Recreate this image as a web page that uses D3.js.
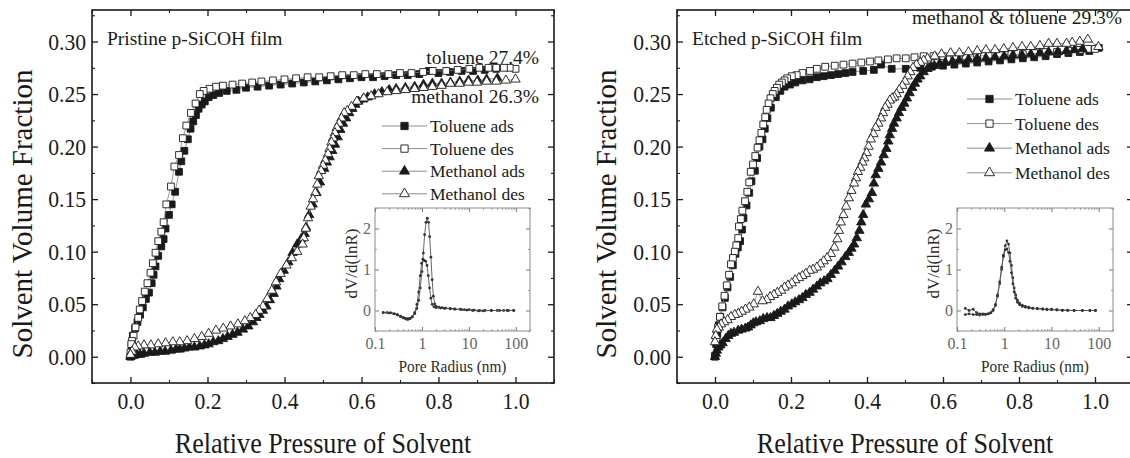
<!DOCTYPE html>
<html>
<head>
<meta charset="utf-8">
<script src="https://cdn.jsdelivr.net/npm/d3@7"></script>
<style>
  html, body { margin: 0; padding: 0; background: #fff; }
  svg { display: block; font-family: "Liberation Serif", "Times New Roman", serif; }
</style>
</head>
<body>
<svg id="chart" width="1130" height="458"></svg>
<script>
// ---------------- axis ticks ----------------
const pressureTicks = [0, 0.2, 0.4, 0.6, 0.8, 1.0];
const pressureMinorTicks = [-0.1, 0.1, 0.3, 0.5, 0.7, 0.9, 1.1];
const fractionTicks = [0, 0.05, 0.10, 0.15, 0.20, 0.25, 0.30];
const fractionMinorTicks = [-0.025, 0.025, 0.075, 0.125, 0.175, 0.225, 0.275, 0.325];
const radiusTicks = [0.1, 1, 10, 100];
const radiusMinorTicks = [0.2, 0.3, 0.4, 0.5, 0.6, 0.7, 0.8, 0.9, 2, 3, 4, 5, 6, 7, 8, 9,
                          20, 30, 40, 50, 60, 70, 80, 90, 200];
const psdTicks = [0, 1, 2];
const psdMinorTicks = [-0.5, 0.5, 1.5, 2.5];

const seriesNames = ["Toluene ads", "Toluene des", "Methanol ads", "Methanol des"];

// ---------------- pristine film isotherms [P/P0, volume fraction] ----------------
const pristineTolueneAds = [
  [0.000, 0.000], [0.003, 0.010], [0.006, 0.020], [0.012, 0.027], [0.018, 0.033], [0.025, 0.040],
  [0.032, 0.047], [0.040, 0.055], [0.048, 0.061], [0.055, 0.070], [0.060, 0.078], [0.065, 0.086],
  [0.072, 0.096], [0.080, 0.105], [0.086, 0.112], [0.091, 0.122], [0.100, 0.135], [0.107, 0.145],
  [0.116, 0.157], [0.126, 0.176], [0.132, 0.186], [0.140, 0.196], [0.149, 0.207], [0.156, 0.217],
  [0.163, 0.224], [0.170, 0.230], [0.177, 0.236], [0.185, 0.240], [0.193, 0.243], [0.203, 0.247],
  [0.215, 0.249], [0.230, 0.251], [0.250, 0.253], [0.275, 0.254], [0.300, 0.256], [0.330, 0.257],
  [0.360, 0.258], [0.390, 0.259], [0.420, 0.260], [0.450, 0.261], [0.480, 0.262], [0.510, 0.263],
  [0.540, 0.264], [0.570, 0.265], [0.600, 0.266], [0.630, 0.266], [0.660, 0.267], [0.690, 0.268],
  [0.720, 0.268], [0.750, 0.269], [0.775, 0.272], [0.800, 0.270], [0.830, 0.271], [0.860, 0.272],
  [0.890, 0.272], [0.920, 0.273], [0.950, 0.274]
];
const pristineTolueneDes = [
  [1.000, 0.274], [0.985, 0.275], [0.970, 0.275], [0.950, 0.275], [0.930, 0.275], [0.906, 0.275],
  [0.880, 0.274], [0.850, 0.273], [0.820, 0.272], [0.785, 0.272], [0.760, 0.271], [0.730, 0.270],
  [0.700, 0.270], [0.670, 0.269], [0.640, 0.269], [0.610, 0.269], [0.580, 0.268], [0.550, 0.268],
  [0.520, 0.267], [0.490, 0.266], [0.460, 0.266], [0.430, 0.265], [0.400, 0.264], [0.370, 0.263],
  [0.340, 0.262], [0.316, 0.261], [0.290, 0.260], [0.265, 0.259], [0.240, 0.258], [0.222, 0.257],
  [0.205, 0.255], [0.190, 0.253], [0.180, 0.250], [0.169, 0.241], [0.157, 0.232], [0.145, 0.220],
  [0.136, 0.208], [0.126, 0.192], [0.114, 0.181], [0.105, 0.162], [0.093, 0.145], [0.086, 0.128],
  [0.080, 0.119], [0.072, 0.110], [0.065, 0.099], [0.058, 0.089], [0.052, 0.080], [0.044, 0.070],
  [0.037, 0.062], [0.030, 0.053], [0.024, 0.045], [0.020, 0.037], [0.013, 0.028], [0.008, 0.020],
  [0.004, 0.015], [0.002, 0.012], [0.000, 0.004]
];
const pristineMethanolAds = [
  [0.000, 0.000], [0.008, 0.001], [0.016, 0.002], [0.025, 0.002], [0.035, 0.003], [0.050, 0.004],
  [0.063, 0.004], [0.077, 0.005], [0.090, 0.005], [0.105, 0.006], [0.118, 0.007], [0.128, 0.007],
  [0.140, 0.008], [0.153, 0.009], [0.166, 0.009], [0.180, 0.010], [0.192, 0.011], [0.203, 0.012],
  [0.215, 0.014], [0.228, 0.015], [0.240, 0.017], [0.252, 0.019], [0.265, 0.021], [0.278, 0.023],
  [0.292, 0.026], [0.306, 0.029], [0.318, 0.033], [0.327, 0.037], [0.335, 0.040], [0.344, 0.044],
  [0.353, 0.048], [0.362, 0.054], [0.372, 0.060], [0.379, 0.067], [0.386, 0.074], [0.398, 0.082],
  [0.410, 0.090], [0.421, 0.099], [0.433, 0.107], [0.443, 0.112], [0.452, 0.117], [0.456, 0.123],
  [0.464, 0.135], [0.473, 0.145], [0.483, 0.156], [0.492, 0.166], [0.503, 0.179], [0.510, 0.185],
  [0.517, 0.190], [0.524, 0.196], [0.531, 0.202], [0.538, 0.209], [0.545, 0.216], [0.552, 0.222],
  [0.560, 0.227], [0.568, 0.232], [0.576, 0.236], [0.584, 0.240], [0.592, 0.243], [0.604, 0.245],
  [0.616, 0.247], [0.634, 0.250], [0.653, 0.252], [0.672, 0.254], [0.690, 0.255], [0.714, 0.256],
  [0.738, 0.257], [0.761, 0.259], [0.784, 0.260], [0.808, 0.260], [0.831, 0.261], [0.855, 0.262],
  [0.878, 0.263], [0.902, 0.263], [0.925, 0.264], [0.953, 0.265]
];
const pristineMethanolDes = [
  [1.000, 0.264], [0.975, 0.263], [0.950, 0.262], [0.925, 0.262], [0.900, 0.261], [0.878, 0.261],
  [0.855, 0.260], [0.831, 0.260], [0.808, 0.258], [0.784, 0.257], [0.761, 0.256], [0.738, 0.255],
  [0.714, 0.254], [0.690, 0.253], [0.667, 0.252], [0.644, 0.250], [0.625, 0.248], [0.606, 0.246],
  [0.588, 0.243], [0.574, 0.238], [0.563, 0.234], [0.555, 0.232], [0.548, 0.227], [0.542, 0.222],
  [0.536, 0.218], [0.531, 0.213], [0.526, 0.208], [0.522, 0.204], [0.517, 0.198], [0.513, 0.193],
  [0.506, 0.187], [0.500, 0.182], [0.495, 0.177], [0.489, 0.172], [0.485, 0.164], [0.480, 0.156],
  [0.474, 0.150], [0.468, 0.143], [0.461, 0.132], [0.455, 0.122], [0.450, 0.113], [0.447, 0.107],
  [0.433, 0.100], [0.419, 0.094], [0.405, 0.087], [0.390, 0.079], [0.378, 0.071], [0.367, 0.063],
  [0.355, 0.055], [0.344, 0.048], [0.334, 0.044], [0.325, 0.040], [0.311, 0.037], [0.297, 0.034],
  [0.279, 0.031], [0.260, 0.029], [0.241, 0.027], [0.222, 0.025], [0.203, 0.022], [0.185, 0.019],
  [0.166, 0.017], [0.147, 0.015], [0.128, 0.014], [0.110, 0.014], [0.091, 0.013], [0.072, 0.012],
  [0.053, 0.011], [0.035, 0.011], [0.020, 0.010], [0.011, 0.009], [0.004, 0.005], [0.000, 0.002]
];

// ---------------- etched film isotherms [P/P0, volume fraction] ----------------
const etchedTolueneAds = [
  [0.000, 0.000], [0.003, 0.012], [0.006, 0.022], [0.010, 0.030], [0.014, 0.038], [0.020, 0.047],
  [0.026, 0.056], [0.033, 0.066], [0.040, 0.076], [0.047, 0.087], [0.054, 0.098], [0.060, 0.104],
  [0.066, 0.110], [0.071, 0.121], [0.075, 0.132], [0.083, 0.144], [0.090, 0.156], [0.096, 0.167],
  [0.105, 0.177], [0.111, 0.189], [0.117, 0.200], [0.125, 0.207], [0.131, 0.217], [0.138, 0.227],
  [0.147, 0.237], [0.160, 0.247], [0.172, 0.253], [0.183, 0.257], [0.197, 0.259], [0.211, 0.261],
  [0.230, 0.263], [0.249, 0.264], [0.268, 0.266], [0.286, 0.267], [0.305, 0.268], [0.324, 0.269],
  [0.343, 0.270], [0.362, 0.271], [0.390, 0.272], [0.418, 0.273], [0.437, 0.278], [0.465, 0.274],
  [0.502, 0.274], [0.540, 0.275], [0.570, 0.276], [0.600, 0.277], [0.630, 0.278], [0.660, 0.279],
  [0.690, 0.280], [0.720, 0.281], [0.750, 0.282], [0.780, 0.283], [0.810, 0.284], [0.840, 0.285],
  [0.870, 0.286], [0.900, 0.288], [0.930, 0.289], [0.960, 0.290], [0.985, 0.291], [1.010, 0.294]
];
const etchedTolueneDes = [
  [1.000, 0.293], [0.981, 0.293], [0.960, 0.292], [0.930, 0.291], [0.900, 0.290], [0.870, 0.290],
  [0.840, 0.289], [0.810, 0.288], [0.780, 0.288], [0.750, 0.287], [0.720, 0.287], [0.690, 0.286],
  [0.660, 0.286], [0.630, 0.286], [0.600, 0.286], [0.575, 0.286], [0.549, 0.286], [0.525, 0.285],
  [0.502, 0.284], [0.478, 0.284], [0.455, 0.283], [0.430, 0.282], [0.408, 0.281], [0.385, 0.280],
  [0.362, 0.279], [0.338, 0.278], [0.315, 0.277], [0.290, 0.276], [0.268, 0.274], [0.250, 0.272],
  [0.230, 0.270], [0.215, 0.268], [0.202, 0.267], [0.190, 0.265], [0.183, 0.263], [0.176, 0.261],
  [0.169, 0.259], [0.163, 0.256], [0.157, 0.253], [0.152, 0.250], [0.146, 0.246], [0.141, 0.241],
  [0.136, 0.235], [0.132, 0.228], [0.127, 0.221], [0.122, 0.213], [0.117, 0.206], [0.112, 0.199],
  [0.106, 0.191], [0.100, 0.183], [0.094, 0.176], [0.090, 0.166], [0.085, 0.157], [0.079, 0.148],
  [0.072, 0.139], [0.068, 0.131], [0.063, 0.124], [0.061, 0.113], [0.056, 0.106], [0.052, 0.100],
  [0.047, 0.094], [0.042, 0.088], [0.037, 0.078], [0.031, 0.068], [0.025, 0.058], [0.019, 0.048],
  [0.013, 0.038], [0.008, 0.028], [0.004, 0.016], [0.000, 0.001]
];
const etchedMethanolAds = [
  [0.000, 0.000], [0.002, 0.003], [0.005, 0.006], [0.009, 0.009], [0.014, 0.011], [0.020, 0.013],
  [0.028, 0.017], [0.035, 0.020], [0.042, 0.022], [0.050, 0.023], [0.061, 0.025], [0.070, 0.026],
  [0.080, 0.027], [0.087, 0.028], [0.094, 0.030], [0.101, 0.032], [0.108, 0.033], [0.118, 0.034],
  [0.127, 0.036], [0.137, 0.037], [0.146, 0.037], [0.155, 0.039], [0.164, 0.041], [0.173, 0.043],
  [0.183, 0.045], [0.192, 0.048], [0.202, 0.050], [0.211, 0.052], [0.221, 0.054], [0.230, 0.056],
  [0.239, 0.059], [0.249, 0.061], [0.258, 0.064], [0.268, 0.067], [0.277, 0.070], [0.287, 0.072],
  [0.296, 0.074], [0.305, 0.078], [0.315, 0.082], [0.324, 0.086], [0.333, 0.090], [0.343, 0.095],
  [0.352, 0.099], [0.359, 0.103], [0.366, 0.107], [0.373, 0.113], [0.380, 0.120], [0.385, 0.128],
  [0.390, 0.135], [0.397, 0.145], [0.405, 0.150], [0.413, 0.156], [0.418, 0.165], [0.423, 0.173],
  [0.430, 0.179], [0.437, 0.185], [0.444, 0.192], [0.451, 0.198], [0.456, 0.205], [0.460, 0.211],
  [0.466, 0.217], [0.471, 0.222], [0.478, 0.227], [0.484, 0.232], [0.491, 0.237], [0.498, 0.241],
  [0.505, 0.246], [0.512, 0.251], [0.519, 0.256], [0.526, 0.260], [0.533, 0.264], [0.540, 0.267],
  [0.549, 0.271], [0.559, 0.274], [0.568, 0.276], [0.577, 0.277], [0.591, 0.279], [0.606, 0.280],
  [0.625, 0.281], [0.643, 0.282], [0.667, 0.283], [0.690, 0.284], [0.713, 0.284], [0.737, 0.285],
  [0.761, 0.286], [0.784, 0.287], [0.808, 0.287], [0.831, 0.288], [0.855, 0.289], [0.878, 0.290],
  [0.902, 0.290], [0.925, 0.291], [0.946, 0.292], [0.967, 0.293]
];
const etchedMethanolDes = [
  [1.009, 0.295], [0.981, 0.302], [0.960, 0.300], [0.940, 0.299], [0.925, 0.298], [0.900, 0.298],
  [0.878, 0.298], [0.855, 0.296], [0.831, 0.295], [0.808, 0.295], [0.784, 0.294], [0.760, 0.293],
  [0.737, 0.292], [0.713, 0.292], [0.690, 0.291], [0.667, 0.290], [0.643, 0.289], [0.620, 0.289],
  [0.596, 0.288], [0.578, 0.286], [0.559, 0.284], [0.549, 0.282], [0.540, 0.280], [0.530, 0.278],
  [0.521, 0.275], [0.514, 0.271], [0.507, 0.267], [0.500, 0.262], [0.493, 0.258], [0.485, 0.254],
  [0.478, 0.250], [0.472, 0.247], [0.466, 0.246], [0.460, 0.244], [0.454, 0.240], [0.448, 0.237],
  [0.442, 0.232], [0.437, 0.227], [0.430, 0.222], [0.423, 0.218], [0.417, 0.212], [0.410, 0.207],
  [0.404, 0.200], [0.399, 0.194], [0.393, 0.189], [0.388, 0.185], [0.382, 0.180], [0.376, 0.176],
  [0.371, 0.170], [0.366, 0.165], [0.359, 0.158], [0.352, 0.151], [0.345, 0.143], [0.338, 0.135],
  [0.331, 0.128], [0.326, 0.120], [0.322, 0.112], [0.314, 0.104], [0.305, 0.098], [0.295, 0.094],
  [0.286, 0.091], [0.277, 0.088], [0.268, 0.085], [0.258, 0.083], [0.249, 0.082], [0.239, 0.079],
  [0.230, 0.077], [0.221, 0.075], [0.211, 0.073], [0.202, 0.070], [0.192, 0.068], [0.183, 0.066],
  [0.174, 0.063], [0.164, 0.061], [0.155, 0.059], [0.145, 0.057], [0.136, 0.054], [0.125, 0.053],
  [0.113, 0.062], [0.102, 0.050], [0.090, 0.047], [0.080, 0.045], [0.070, 0.043], [0.061, 0.041],
  [0.052, 0.040], [0.042, 0.038], [0.033, 0.035], [0.024, 0.033], [0.016, 0.031], [0.010, 0.028],
  [0.005, 0.026], [0.002, 0.020], [0.000, 0.014]
];

// ---------------- pore size distributions [radius nm, dV/d(lnR)] ----------------
const pristinePsdToluene = [
  [0.15, -0.05], [0.18, -0.05], [0.22, -0.06], [0.26, -0.08], [0.30, -0.10], [0.35, -0.14],
  [0.40, -0.17], [0.45, -0.19], [0.50, -0.20], [0.55, -0.19], [0.62, -0.15], [0.70, -0.08],
  [0.78, 0.05], [0.85, 0.25], [0.92, 0.55], [1.00, 0.95], [1.07, 1.40], [1.14, 1.85],
  [1.22, 2.15], [1.30, 2.25], [1.38, 2.15], [1.46, 1.80], [1.55, 1.30], [1.65, 0.75],
  [1.75, 0.35], [1.87, 0.16], [2.0, 0.10], [2.3, 0.08], [2.7, 0.07], [3.2, 0.06],
  [4.0, 0.05], [5.0, 0.04], [6.5, 0.03], [8.0, 0.02], [10, 0.02], [13, 0.01],
  [17, 0.00], [22, 0.00], [30, 0.00], [40, 0.00], [55, 0.00], [70, 0.00], [90, 0.00]
];
const pristinePsdMethanol = [
  [0.15, -0.05], [0.20, -0.06], [0.25, -0.08], [0.30, -0.11], [0.35, -0.15], [0.40, -0.18],
  [0.45, -0.21], [0.50, -0.22], [0.56, -0.20], [0.62, -0.16], [0.70, -0.05], [0.78, 0.15],
  [0.85, 0.45], [0.92, 0.85], [0.98, 1.15], [1.05, 1.25], [1.12, 1.22], [1.20, 1.20],
  [1.28, 1.10], [1.36, 0.85], [1.45, 0.55], [1.55, 0.30], [1.65, 0.15], [1.80, 0.09],
  [2.0, 0.07], [2.5, 0.06], [3.0, 0.05], [4.0, 0.04], [5.0, 0.03], [7.0, 0.02],
  [9.0, 0.01], [12, 0.00], [16, -0.01], [20, -0.01], [30, 0.00], [45, 0.00], [65, 0.00], [90, 0.00]
];
const etchedPsdToluene = [
  [0.15, 0.05], [0.18, 0.00], [0.22, 0.03], [0.26, -0.05], [0.30, -0.08], [0.35, -0.08],
  [0.40, -0.09], [0.46, -0.08], [0.52, -0.06], [0.58, 0.00], [0.65, 0.12], [0.72, 0.35],
  [0.80, 0.65], [0.88, 1.00], [0.96, 1.35], [1.05, 1.58], [1.14, 1.70], [1.23, 1.62],
  [1.32, 1.40], [1.42, 1.10], [1.52, 0.80], [1.62, 0.55], [1.75, 0.38], [1.90, 0.25],
  [2.1, 0.18], [2.4, 0.13], [2.8, 0.10], [3.3, 0.08], [4.0, 0.06], [5.0, 0.05],
  [6.5, 0.04], [8.0, 0.03], [10, 0.03], [13, 0.02], [17, 0.01], [22, 0.01],
  [30, 0.00], [45, 0.00], [65, 0.00], [85, 0.00]
];
const etchedPsdMethanol = [
  [0.15, -0.10], [0.18, -0.08], [0.22, -0.10], [0.26, -0.10], [0.30, -0.11], [0.35, -0.10],
  [0.40, -0.10], [0.46, -0.08], [0.52, -0.05], [0.58, 0.02], [0.65, 0.15], [0.72, 0.38],
  [0.80, 0.70], [0.88, 1.05], [0.96, 1.32], [1.05, 1.48], [1.14, 1.50], [1.23, 1.42],
  [1.32, 1.20], [1.42, 0.92], [1.52, 0.65], [1.62, 0.45], [1.75, 0.30], [1.90, 0.20],
  [2.1, 0.14], [2.4, 0.10], [2.8, 0.08], [3.3, 0.06], [4.0, 0.05], [5.0, 0.04],
  [6.5, 0.03], [8.0, 0.02], [10, 0.02], [13, 0.01], [17, 0.00], [22, 0.00],
  [30, 0.00], [45, 0.00], [65, 0.00], [85, 0.00]
];

// ---------------- layout ----------------
const FONT_TICK = 24, FONT_TITLE_X = 29, FONT_TITLE_Y = 29;
const FONT_NOTE = 19.5, FONT_LEGEND = 17.5, FONT_INSET = 17;
const NARROW = 0.9;   // the serif face is set slightly condensed
const INK = "#1a1a1a";

const panels = [
  {
    frame: { x0: 92, x1: 554, y0: 10, y1: 383 },
    series: [pristineTolueneAds, pristineTolueneDes, pristineMethanolAds, pristineMethanolDes],
    notes: [
      { text: "Pristine p-SiCOH film", x: 107, y: 45, anchor: "start" },
      { text: "toluene 27.4%", x: 539, y: 64, anchor: "end" },
      { text: "methanol 26.3%", x: 539, y: 103, anchor: "end" }
    ],
    legend: { x0: 382, x1: 427, y0: 126, dy: 22.6 },
    inset: { x0: 375, x1: 530, y0: 208, y1: 331, curves: [pristinePsdToluene, pristinePsdMethanol] },
    yTitleX: 22
  },
  {
    frame: { x0: 677, x1: 1133, y0: 10, y1: 383 },
    series: [etchedTolueneAds, etchedTolueneDes, etchedMethanolAds, etchedMethanolDes],
    notes: [
      { text: "Etched p-SiCOH film", x: 692, y: 45, anchor: "start" },
      { text: "methanol & toluene 29.3%", x: 1122, y: 24, anchor: "end" }
    ],
    legend: { x0: 967, x1: 1012, y0: 99, dy: 24.6 },
    inset: { x0: 957, x1: 1113, y0: 208, y1: 331, curves: [etchedPsdToluene, etchedPsdMethanol] },
    yTitleX: 606
  }
];

// marker style for each of the four isotherm series
const markerStyles = [
  { shape: d3.symbolSquare, size: 46, fill: INK },
  { shape: d3.symbolSquare, size: 46, fill: "#fff" },
  { shape: d3.symbolTriangle, size: 38, fill: INK },
  { shape: d3.symbolTriangle, size: 38, fill: "#fff" }
];

const svg = d3.select("#chart");

// squeeze glyphs horizontally while keeping their height
function condense(sel, k) {
  sel.each(function () {
    const len = this.getComputedTextLength();
    if (len > 0) {
      this.setAttribute("textLength", (len * k).toFixed(2));
      this.setAttribute("lengthAdjust", "spacingAndGlyphs");
    }
  });
}

function styleAxis(g, size, color, width) {
  g.attr("font-family", null).attr("font-size", size);
  g.select(".domain").remove();
  g.selectAll(".tick line").attr("stroke", color).attr("stroke-width", width);
  g.selectAll(".tick text").attr("fill", color);
}

function drawPanel(p) {
  const f = p.frame;
  const x = d3.scaleLinear().domain([-0.1, 1.1]).range([f.x0, f.x1]);
  const y = d3.scaleLinear().domain([-0.025, 0.33]).range([f.y1, f.y0]);
  const g = svg.append("g");

  // major + minor ticks on all four sides, pointing inward
  const axes = [
    [d3.axisBottom(x), `translate(0,${f.y1})`, pressureTicks, pressureMinorTicks, d3.format(".1f"), 9],
    [d3.axisTop(x), `translate(0,${f.y0})`, pressureTicks, pressureMinorTicks, null, 0],
    [d3.axisLeft(y), `translate(${f.x0},0)`, fractionTicks, fractionMinorTicks, d3.format(".2f"), 6],
    [d3.axisRight(y), `translate(${f.x1},0)`, fractionTicks, fractionMinorTicks, null, 0]
  ];
  axes.forEach(([ax, tr, major, minor, fmt, pad]) => {
    g.append("g").attr("transform", tr)
      .call(ax.tickValues(major).tickFormat(fmt || (() => ""))
        .tickSizeInner(-6).tickSizeOuter(0).tickPadding(pad))
      .call(s => styleAxis(s, FONT_TICK, INK, 1.3))
      .call(s => condense(s.selectAll(".tick text"), NARROW));
    g.append("g").attr("transform", tr)
      .call(ax.tickValues(minor).tickFormat(() => "").tickSizeInner(-3).tickSizeOuter(0))
      .call(s => styleAxis(s, FONT_TICK, INK, 1.1));
  });

  g.append("rect")
    .attr("x", f.x0).attr("y", f.y0)
    .attr("width", f.x1 - f.x0).attr("height", f.y1 - f.y0)
    .attr("fill", "none").attr("stroke", INK).attr("stroke-width", 1.6);

  // axis titles
  g.append("text")
    .attr("x", (f.x0 + f.x1) / 2).attr("y", 453)
    .attr("text-anchor", "middle").attr("font-size", FONT_TITLE_X).attr("fill", INK)
    .text("Relative Pressure of Solvent")
    .call(s => condense(s, NARROW));
  g.append("text")
    .attr("transform", `translate(${p.yTitleX},214) rotate(-90)`)
    .attr("text-anchor", "middle").attr("dominant-baseline", "central")
    .attr("font-size", FONT_TITLE_Y).attr("fill", INK)
    .text("Solvent Volume Fraction");

  // isotherms: thin grey connecting line, then the markers
  const line = d3.line().x(d => x(d[0])).y(d => y(d[1]));
  p.series.forEach((data, i) => {
    const st = markerStyles[i];
    g.append("path").datum(data).attr("d", line)
      .attr("fill", "none").attr("stroke", "#808080").attr("stroke-width", 0.8);
    g.append("g").selectAll("path").data(data).join("path")
      .attr("transform", d => `translate(${x(d[0])},${y(d[1])})`)
      .attr("d", d3.symbol(st.shape, st.size))
      .attr("fill", st.fill).attr("stroke", INK).attr("stroke-width", 0.9);
  });

  // text notes
  p.notes.forEach(n => {
    g.append("text").attr("x", n.x).attr("y", n.y)
      .attr("text-anchor", n.anchor).attr("font-size", FONT_NOTE).attr("fill", INK)
      .text(n.text);
  });

  // legend
  const L = p.legend;
  seriesNames.forEach((name, i) => {
    const st = markerStyles[i];
    const yy = L.y0 + i * L.dy;
    const row = g.append("g");
    row.append("line").attr("x1", L.x0).attr("x2", L.x1).attr("y1", yy).attr("y2", yy)
      .attr("stroke", "#808080").attr("stroke-width", 0.9);
    row.append("path").attr("transform", `translate(${(L.x0 + L.x1) / 2},${yy})`)
      .attr("d", d3.symbol(st.shape, st.size * 1.15))
      .attr("fill", st.fill).attr("stroke", INK).attr("stroke-width", 0.9);
    row.append("text").attr("x", L.x1 + 3).attr("y", yy)
      .attr("dominant-baseline", "central").attr("font-size", FONT_LEGEND).attr("fill", INK)
      .text(name);
  });

  drawInset(g, p.inset);
}

function drawInset(g, b) {
  const x = d3.scaleLog().domain([0.1, 200]).range([b.x0, b.x1]);
  const y = d3.scaleLinear().domain([-0.5, 2.5]).range([b.y1, b.y0]);
  const ig = g.append("g");

  const radiusFmt = d => (d < 1 ? d.toString() : d3.format("d")(d));
  const axes = [
    [d3.axisBottom(x), `translate(0,${b.y1})`, radiusTicks, radiusMinorTicks, radiusFmt, 7],
    [d3.axisTop(x), `translate(0,${b.y0})`, radiusTicks, radiusMinorTicks, null, 0],
    [d3.axisLeft(y), `translate(${b.x0},0)`, psdTicks, psdMinorTicks, d3.format("d"), 4],
    [d3.axisRight(y), `translate(${b.x1},0)`, psdTicks, psdMinorTicks, null, 0]
  ];
  axes.forEach(([ax, tr, major, minor, fmt, pad]) => {
    ig.append("g").attr("transform", tr)
      .call(ax.tickValues(major).tickFormat(fmt || (() => ""))
        .tickSizeInner(-4).tickSizeOuter(0).tickPadding(pad))
      .call(s => styleAxis(s, 16, "#666", 0.9));
    ig.append("g").attr("transform", tr)
      .call(ax.tickValues(minor).tickFormat(() => "").tickSizeInner(-2).tickSizeOuter(0))
      .call(s => styleAxis(s, 16, "#888", 0.8));
  });

  ig.append("rect")
    .attr("x", b.x0).attr("y", b.y0).attr("width", b.x1 - b.x0).attr("height", b.y1 - b.y0)
    .attr("fill", "none").attr("stroke", "#8c8c8c").attr("stroke-width", 1);

  ig.append("text")
    .attr("x", (b.x0 + b.x1) / 2).attr("y", b.y1 + 41)
    .attr("text-anchor", "middle").attr("font-size", FONT_INSET).attr("fill", "#2a2a2a")
    .text("Pore Radius (nm)")
    .call(s => condense(s, NARROW));
  ig.append("text")
    .attr("transform", `translate(${b.x0 - 24},${(b.y0 + b.y1) / 2 - 6}) rotate(-90)`)
    .attr("text-anchor", "middle").attr("dominant-baseline", "central")
    .attr("font-size", FONT_INSET).attr("fill", "#2a2a2a")
    .text("dV/d(lnR)");

  const line = d3.line().x(d => x(d[0])).y(d => y(d[1]));
  b.curves.forEach(c => {
    ig.append("path").datum(c).attr("d", line)
      .attr("fill", "none").attr("stroke", "#555").attr("stroke-width", 0.9);
    ig.append("g").selectAll("circle").data(c).join("circle")
      .attr("cx", d => x(d[0])).attr("cy", d => y(d[1])).attr("r", 1.4)
      .attr("fill", "#333");
  });
}

panels.forEach(drawPanel);
</script>
</body>
</html>
